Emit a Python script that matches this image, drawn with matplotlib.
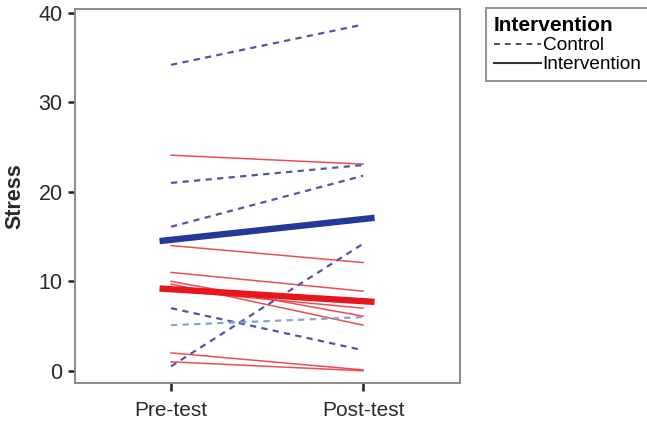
import matplotlib.pyplot as plt
from matplotlib.lines import Line2D

plt.rcParams['font.family'] = ['Liberation Sans', 'DejaVu Sans']

phases = ["Pre-test", "Post-test"]

# individual control cases (pre, post)
control_pre = [34.2, 21.0, 16.1, 0.5, 7.0]
control_post = [38.7, 23.0, 21.8, 14.2, 2.3]
control_light_pre = [5.1]
control_light_post = [6.0]

# individual intervention cases (pre, post)
interv_pre = [24.1, 14.0, 11.0, 10.0, 9.7, 9.0, 2.0, 1.0]
interv_post = [23.1, 12.1, 8.9, 6.1, 5.1, 7.0, 0.1, 0.0]

# group means
control_mean = [14.5, 17.1]
interv_mean = [9.2, 7.7]

fig = plt.figure(figsize=(6.47, 4.24), dpi=100)
ax = fig.add_axes([0.116, 0.097, 0.595, 0.882])

x = [0, 1]
for a, b in zip(interv_pre, interv_post):
    ax.plot(x, [a, b], color="#ee3a3f", lw=1.1, alpha=0.9)
for a, b in zip(control_pre, control_post):
    ax.plot(x, [a, b], color="#5552a8", lw=1.6, dashes=(2.8, 2.4))
for a, b in zip(control_light_pre, control_light_post):
    ax.plot(x, [a, b], color="#7ea4da", lw=1.6, dashes=(2.8, 2.4))

ext = 0.06
xm = [x[0] - ext, x[1] + ext]
ax.plot(xm, interv_mean, color="#e8141e", lw=4.6, solid_capstyle="butt")
ax.plot(xm, control_mean, color="#26379a", lw=4.6, solid_capstyle="butt")

ax.set_xlim(-0.5, 1.505)
ax.set_ylim(-1.35, 40.45)
ax.set_xticks(x)
ax.set_xticklabels(phases, fontsize=15, color="#2a2a2a")
ax.set_yticks([0, 10, 20, 30, 40])
ax.tick_params(axis="y", labelsize=15.5, labelcolor="#2a2a2a", length=5, width=1.8, color="#222222", pad=4)
ax.tick_params(axis="x", length=6, width=1.8, color="#222222", pad=7)
ax.set_ylabel("Stress", fontsize=15.5, fontweight="bold", color="#2a2a2a", labelpad=9)
for s in ax.spines.values():
    s.set_color("#8a8a8a")
    s.set_linewidth(1.4)

handles = [Line2D([], [], color="#333333", lw=1.2, dashes=(3.5, 3.0)),
           Line2D([], [], color="#333333", lw=1.5)]
leg = fig.legend(handles, ["Control", "Intervention"], title="Intervention",
                 loc="upper left", bbox_to_anchor=(486 / 647, 1 - 8 / 424),
                 fontsize=13.7, title_fontproperties={"weight": "bold", "size": 15},
                 frameon=True, fancybox=False, edgecolor="#777777",
                 handlelength=2.45, handletextpad=0.1, borderpad=0.42,
                 labelspacing=0.1, alignment="left", borderaxespad=0)
leg.get_frame().set_linewidth(1.4)

fig.savefig("out.png", dpi=100)
